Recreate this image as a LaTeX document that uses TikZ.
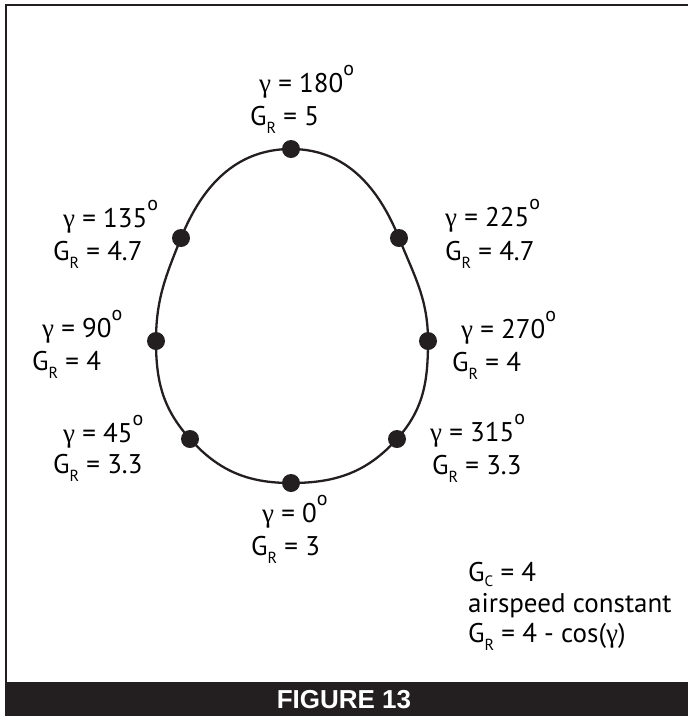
\documentclass[tikz,border=0pt]{standalone}
\usepackage{fontspec}
\setmainfont{PT Sans}
\newfontfamily\grkfont{Liberation Serif}
\newfontfamily\capfont{Liberation Sans}
\usetikzlibrary{positioning}
\definecolor{inkblack}{HTML}{231F20}
\newcommand{\gam}{{\grkfont γ}}
\newcommand{\dg}{\raisebox{0.6em}{\fontsize{20}{20}\selectfont o}}
\newcommand{\GR}{G\raisebox{-8pt}{\fontsize{16}{16}\selectfont R}}
\newcommand{\GC}{G\raisebox{-5pt}{\fontsize{15}{15}\selectfont C}}

\begin{document}
\begin{tikzpicture}[x=1pt,y=-1pt,
  lbl/.style={font=\fontsize{27}{33}\selectfont,inner sep=0pt,anchor=base west},
  pt/.style={circle,fill=inkblack,inner sep=0pt,minimum size=18pt}]
  \useasboundingbox (0,0) rectangle (688,716);
  % ---- frame and caption bar
  \draw[inkblack,line width=2.5pt] (6,716) -- (6,5) -- (688,5);
  \fill[inkblack] (5,682) rectangle (688,716);
  \node[text=white,font=\capfont\bfseries\fontsize{26}{30}\selectfont] (cap) at (344,700) {FIGURE 13};
  % ---- points on the curve
  \coordinate (p180) at (291,149);
  \coordinate (p225) at (399,238);
  \coordinate (p270) at (428,341);
  \coordinate (p315) at (397,439);
  \coordinate (p0) at (291,483);
  \coordinate (p45) at (190,439);
  \coordinate (p90) at (156,341);
  \coordinate (p135) at (181,238);
  \draw[inkblack,line width=2.3pt] (p180) to[out=0,in=112] (p225)
    to[out=-68,in=90] (p270) to[out=-90,in=48] (p315)
    to[out=-132,in=0] (p0) to[out=180,in=-48] (p45)
    to[out=132,in=-90] (p90) to[out=90,in=-112] (p135)
    to[out=68,in=180] (p180) -- cycle;
  \foreach \a in {0,45,90,135,180,225,270,315}
    \node[pt] (d\a) at (p\a) {};
  % ---- labels
  \node[lbl] (g180) at (259,92) {\gam\ = 180\dg};
  \node[lbl] (r180) at (250,125) {\GR\ = 5};
  \node[lbl] (g135) at (63,227) {\gam\ = 135\dg};
  \node[lbl] (r135) at (53,260) {\GR\ = 4.7};
  \node[lbl] (g225) at (445,226) {\gam\ = 225\dg};
  \node[lbl] (r225) at (445,260) {\GR\ = 4.7};
  \node[lbl] (g90) at (42,337) {\gam\ = 90\dg};
  \node[lbl] (r90) at (32,370) {\GR\ = 4};
  \node[lbl] (g270) at (461,338) {\gam\ = 270\dg};
  \node[lbl] (r270) at (452,371) {\GR\ = 4};
  \node[lbl] (g45) at (63,442) {\gam\ = 45\dg};
  \node[lbl] (r45) at (53,473) {\GR\ = 3.3};
  \node[lbl] (g315) at (430,441) {\gam\ = 315\dg};
  \node[lbl] (r315) at (432,474) {\GR\ = 3.3};
  \node[lbl] (g0) at (262,522) {\gam\ = 0\dg};
  \node[lbl] (r0) at (251,555) {\GR\ = 3};
  \node[lbl] (gc) at (468,581) {\GC\ = 4};
  \node[lbl] (air) at (468,612) {airspeed constant};
  \node[lbl] (form) at (468,642) {\GR\ = 4 - cos(\gam)};
\end{tikzpicture}
\end{document}
